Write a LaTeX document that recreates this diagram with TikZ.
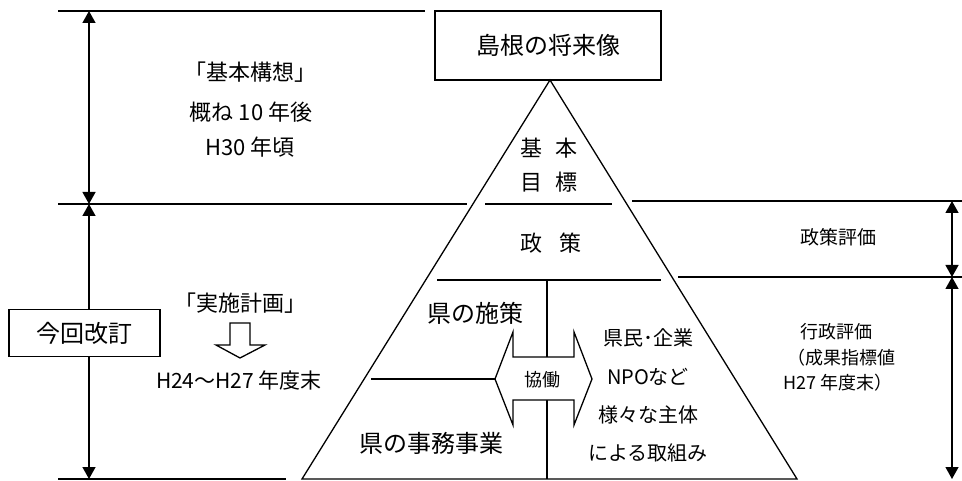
\documentclass[tikz,border=0pt]{standalone}
\usepackage{fontspec}
\setmainfont{Noto Sans CJK JP}
\usetikzlibrary{arrows.meta}
\tikzset{
  ln/.style={line width=1.3pt},
  dim/.style={line width=1.3pt,{Triangle[length=12pt,width=13pt]}-{Triangle[length=12pt,width=13pt]}},
  boxed/.style={draw,line width=1.3pt,fill=white,inner sep=0pt},
  txt/.style={inner sep=0pt,align=center},
  fs/.style={font=\fontsize{#1}{#1}\selectfont},
}
\begin{document}
\begin{tikzpicture}[x=1pt,y=-1pt]
\useasboundingbox (0,0) rectangle (962,481);
% guide lines
\draw[ln] (58,11) -- (425,11);
\draw[ln] (58,204) -- (467,204);
\draw[ln] (58,479) -- (286,479);
\draw[ln] (632,201) -- (962,201);
\draw[ln] (678,277) -- (962,277);
% left dimension arrows
\coordinate (lt) at (89,11);
\coordinate (lm) at (89,204);
\coordinate (lb) at (89,479);
\draw[dim] (lt) -- (lm);
\draw[dim] (lm) -- (lb);
% right dimension arrows
\coordinate (rt) at (952,201);
\coordinate (rm) at (952,277);
\coordinate (rb) at (952,479);
\draw[dim] (rt) -- (rm);
\draw[dim] (rm) -- (rb);
% top box
\node[boxed,fs=24,minimum width=226pt,minimum height=69pt] (vision) at (548,45.5) {島根の将来像};
% pyramid
\coordinate (apex) at (550,80);
\coordinate (bl) at (302,479);
\coordinate (br) at (797,479);
\draw[ln] (apex) -- (bl) -- (br) -- cycle;
\draw[ln] (485,204) -- (612,204);
\draw[ln] (437,280) -- (661,280);
\draw[ln] (547,280) -- (547,479);
\draw[line width=2.6pt] (371,379) -- (495,379);
% double arrow
\draw[ln,fill=white] (495,379) -- (513,332) -- (513,357) -- (574,357) -- (574,332) -- (592,379) -- (574,425) -- (574,400) -- (513,400) -- (513,425) -- cycle;
\node[txt,fs=18] (kyo) at (542,380) {協働};
% pyramid texts
\node[txt,fs=22] (kihon1) at (549,148) {基\hspace{0.6em}本};
\node[txt,fs=22] (kihon2) at (549,182) {目\hspace{0.6em}標};
\node[txt,fs=22] (seisaku) at (551,243) {政\hspace{0.75em}策};
\node[txt,fs=24] (ken) at (475,313) {県の施策};
\node[txt,fs=24] (jimu) at (431,443) {県の事務事業};
\node[txt,fs=20] (min1) at (648,338) {県民･企業};
\node[txt,fs=20] (min2) at (648,377) {NPOなど};
\node[txt,fs=20] (min3) at (648,415) {様々な主体};
\node[txt,fs=20] (min4) at (648,453) {による取組み};
% left texts
\node[txt,fs=22] (kk1) at (250,72) {「基本構想」};
\node[txt,fs=22] (kk2) at (251,112) {概ね 10 年後};
\node[txt,fs=22] (kk3) at (250,147) {H30 年頃};
\node[boxed,fs=24,minimum width=151pt,minimum height=47pt] (kaitei) at (84.5,333) {今回改訂};
\node[txt,fs=22] (jisshi) at (240,303) {「実施計画」};
\draw[ln,fill=white] (230,323) -- (250,323) -- (250,345) -- (265,345) -- (240,358) -- (216,345) -- (230,345) -- cycle;
\node[txt,fs=21] (h24) at (239,380) {H24〜H27 年度末};
% right texts
\node[txt,fs=19] (seihyo) at (838,237) {政策評価};
\node[txt,fs=18] (gyo1) at (836,332) {行政評価};
\node[txt,fs=18] (gyo2) at (841,358) {（成果指標値};
\node[txt,fs=18] (gyo3) at (838,383) {H27 年度末）};
\end{tikzpicture}
\end{document}
